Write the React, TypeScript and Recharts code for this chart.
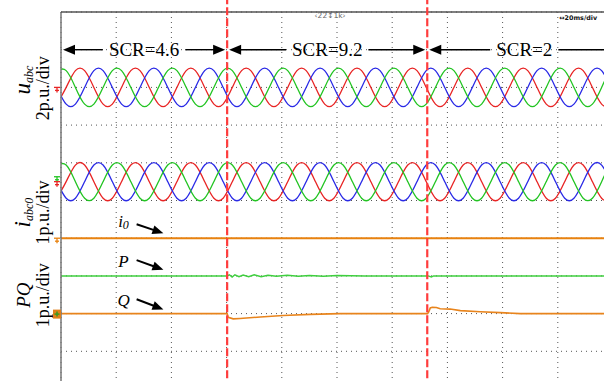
import React from 'react';
import { LineChart, Line, XAxis, YAxis, CartesianGrid, ReferenceLine, ReferenceDot } from 'recharts';

// sample instants (ms), one every 60 deg of the 50 Hz waves
const sampleTimes = [
  -1.48, 1.87, 5.22, 8.56, 11.91, 15.25,
  18.6, 21.94, 25.29, 28.63, 31.98, 35.32,
  38.67, 42.01, 45.36, 48.7, 52.05, 55.39,
  58.74, 62.08, 65.43, 68.77, 72.12, 75.46,
  78.81, 82.15, 85.5, 88.84, 92.19, 95.53,
  98.88, 102.22, 105.57, 108.91, 112.26, 115.6,
  118.95, 122.29, 125.64, 128.98, 132.33, 135.67,
  139.02, 142.36, 145.71, 149.05, 152.4, 155.74,
  159.09, 162.43, 165.78, 169.12, 172.47, 175.81,
  179.16, 182.5, 185.85, 189.19, 192.54, 195.88,
  199.23, 202.57,
];

// grid voltage u_abc (p.u.)
const uA = [
  -0.89,
  0, 0.89, 0.89, 0, -0.89, -0.89,
  0, 0.89, 0.89, 0, -0.89, -0.89,
  0, 0.89, 0.89, 0, -0.89, -0.89,
  0, 0.89, 0.89, 0, -0.89, -0.89,
  0, 0.89, 0.89, 0, -0.89, -0.89,
  0, 0.89, 0.89, 0, -0.89, -0.89,
  0, 0.89, 0.89, 0, -0.89, -0.89,
  0, 0.89, 0.89, 0, -0.89, -0.89,
  0, 0.89, 0.89, 0, -0.89, -0.89,
  0, 0.89, 0.89, 0, -0.89, -0.89,
  0,
];
const uB = [
  0,
  -0.89, -0.89, 0, 0.89, 0.89, 0,
  -0.89, -0.89, 0, 0.89, 0.89, 0,
  -0.89, -0.89, 0, 0.89, 0.89, 0,
  -0.89, -0.89, 0, 0.89, 0.89, 0,
  -0.89, -0.89, 0, 0.89, 0.89, 0,
  -0.89, -0.89, 0, 0.89, 0.89, 0,
  -0.89, -0.89, 0, 0.89, 0.89, 0,
  -0.89, -0.89, 0, 0.89, 0.89, 0,
  -0.89, -0.89, 0, 0.89, 0.89, 0,
  -0.89, -0.89, 0, 0.89, 0.89, 0,
  -0.89,
];
const uC = [
  0.89,
  0.89, 0, -0.89, -0.89, 0, 0.89,
  0.89, 0, -0.89, -0.89, 0, 0.89,
  0.89, 0, -0.89, -0.89, 0, 0.89,
  0.89, 0, -0.89, -0.89, 0, 0.89,
  0.89, 0, -0.89, -0.89, 0, 0.89,
  0.89, 0, -0.89, -0.89, 0, 0.89,
  0.89, 0, -0.89, -0.89, 0, 0.89,
  0.89, 0, -0.89, -0.89, 0, 0.89,
  0.89, 0, -0.89, -0.89, 0, 0.89,
  0.89, 0, -0.89, -0.89, 0, 0.89,
  0.89,
];

// converter current i_abc (p.u.)
const iA = [
  -0.44,
  0, 0.44, 0.44, 0, -0.44, -0.44,
  0, 0.44, 0.44, 0, -0.44, -0.44,
  0, 0.44, 0.44, 0, -0.44, -0.44,
  0, 0.44, 0.44, 0, -0.44, -0.44,
  0, 0.44, 0.44, 0, -0.44, -0.44,
  0, 0.44, 0.44, 0, -0.44, -0.44,
  0, 0.44, 0.44, 0, -0.44, -0.44,
  0, 0.44, 0.44, 0, -0.44, -0.44,
  0, 0.44, 0.44, 0, -0.44, -0.44,
  0, 0.44, 0.44, 0, -0.44, -0.44,
  0,
];
const iB = [
  0,
  -0.44, -0.44, 0, 0.44, 0.44, 0,
  -0.44, -0.44, 0, 0.44, 0.44, 0,
  -0.44, -0.44, 0, 0.44, 0.44, 0,
  -0.44, -0.44, 0, 0.44, 0.44, 0,
  -0.44, -0.44, 0, 0.44, 0.44, 0,
  -0.44, -0.44, 0, 0.44, 0.44, 0,
  -0.44, -0.44, 0, 0.44, 0.44, 0,
  -0.44, -0.44, 0, 0.44, 0.44, 0,
  -0.44, -0.44, 0, 0.44, 0.44, 0,
  -0.44, -0.44, 0, 0.44, 0.44, 0,
  -0.44,
];
const iC = [
  0.44,
  0.44, 0, -0.44, -0.44, 0, 0.44,
  0.44, 0, -0.44, -0.44, 0, 0.44,
  0.44, 0, -0.44, -0.44, 0, 0.44,
  0.44, 0, -0.44, -0.44, 0, 0.44,
  0.44, 0, -0.44, -0.44, 0, 0.44,
  0.44, 0, -0.44, -0.44, 0, 0.44,
  0.44, 0, -0.44, -0.44, 0, 0.44,
  0.44, 0, -0.44, -0.44, 0, 0.44,
  0.44, 0, -0.44, -0.44, 0, 0.44,
  0.44, 0, -0.44, -0.44, 0, 0.44,
  0.44,
];

// zero-sequence current
const i0Times = [0, 200];
const i0Values = [0, 0];

// active power P (p.u.)
const pTimes = [0, 60.2, 61, 62, 63, 64.5, 66, 68, 70, 72.5, 75, 78, 82, 86, 90, 95, 100, 110, 133, 134.2, 135, 200];
const pValues = [1, 1, 1.03, 0.97, 1.03, 0.98, 1.02, 0.98, 1.03, 0.98, 1.02, 0.99, 1.02, 0.99, 1.01, 0.99, 1.01, 1, 1, 0.97, 1, 1];

// reactive power Q (p.u.)
const qTimes = [0, 60.2, 60.6, 62.4, 64.9, 72.2, 80.5, 90.3, 101.2, 132.8, 133.2, 133.8, 134.5, 136, 137.4, 141, 144.7, 151.9, 159.2, 166.4, 200];
const qValues = [0, 0, -0.1, -0.14, -0.13, -0.09, -0.05, -0.02, 0, 0, 0.04, 0.15, 0.17, 0.16, 0.13, 0.12, 0.08, 0.05, 0.025, 0, 0];

// SCR steps
const scrLabels = ['SCR=4.6', 'SCR=9.2', 'SCR=2'];
const scrEdges = [0, 60.2, 132.7, 203];

// channel ground level (div from bottom) and scale (p.u./div)
const CH = {
  u: { zero: 8, perDiv: 2 },
  i: { zero: 5.5, perDiv: 1 },
  i0: { zero: 4, perDiv: 1 },
  pq: { zero: 2, perDiv: 1 },
};

const xTicks = [0, 20, 40, 60, 80, 100, 120, 140, 160, 180, 200];
const yTicks = [0, 1, 2, 3, 4, 5, 6, 7, 8, 9, 10];

const waveRows = sampleTimes.map((t, i) => ({
  t,
  uA: CH.u.zero + uA[i] / CH.u.perDiv,
  uB: CH.u.zero + uB[i] / CH.u.perDiv,
  uC: CH.u.zero + uC[i] / CH.u.perDiv,
  iA: CH.i.zero + iA[i] / CH.i.perDiv,
  iB: CH.i.zero + iB[i] / CH.i.perDiv,
  iC: CH.i.zero + iC[i] / CH.i.perDiv,
}));
const i0Rows = i0Times.map((t, i) => ({ t, v: CH.i0.zero + i0Values[i] / CH.i0.perDiv }));
const pRows = pTimes.map((t, i) => ({ t, v: CH.pq.zero + pValues[i] / CH.pq.perDiv }));
const qRows = qTimes.map((t, i) => ({ t, v: CH.pq.zero + qValues[i] / CH.pq.perDiv }));

const SERIF = "'Liberation Serif', 'Times New Roman', serif";
const RED = '#e82424';
const GREEN = '#22c422';
const BLUE = '#2a2ae6';
const ORANGE = '#e8820f';

const charW: Record<string, number> = { S: 0.556, C: 0.667, R: 0.667, '=': 0.564, '.': 0.25 };
const textWidth = (s: string, size: number) =>
  s.split('').reduce((a, c) => a + (charW[c] ?? 0.5), 0) * size;

// double arrow with the SCR value in the gap
const SpanArrow = (props: any) => {
  const { x1, x2, y1, text } = props;
  const l = Math.min(x1, x2) + 2;
  const r = Math.max(x1, x2) - 2;
  const mid = (l + r) / 2;
  const half = textWidth(text, 19) / 2 + 6;
  return (
    <g>
      <line x1={l + 10} y1={y1} x2={mid - half} y2={y1} stroke="#000" strokeWidth={1.4} />
      <line x1={mid + half} y1={y1} x2={r - 10} y2={y1} stroke="#000" strokeWidth={1.4} />
      <polygon points={`${l},${y1} ${l + 12},${y1 - 5} ${l + 12},${y1 + 5}`} fill="#000" />
      <polygon points={`${r},${y1} ${r - 12},${y1 - 5} ${r - 12},${y1 + 5}`} fill="#000" />
      <text x={mid} y={y1 + 6.3} textAnchor="middle" fontFamily={SERIF} fontSize={19} fill="#000">
        {text}
      </text>
    </g>
  );
};

// small pointer arrow next to i0 / P / Q
const Pointer = (props: any) => {
  const { x1, y1, x2, y2 } = props;
  const a = Math.atan2(y2 - y1, x2 - x1);
  const c = Math.cos(a);
  const s = Math.sin(a);
  const bx = x2 - 11 * c;
  const by = y2 - 11 * s;
  return (
    <g>
      <line x1={x1} y1={y1} x2={bx + 2 * c} y2={by + 2 * s} stroke="#000" strokeWidth={2} />
      <polygon points={`${x2},${y2} ${bx - 4.5 * s},${by + 4.5 * c} ${bx + 4.5 * s},${by - 4.5 * c}`} fill="#000" />
    </g>
  );
};

const ChannelLabel = ({ cx, cy, sym, sub, symSize, subSize, symShift, unit }: any) => (
  <g fontFamily={SERIF} fill="#000">
    <text transform={`translate(${cx - 31},${cy + symShift}) rotate(-90)`} textAnchor="middle" fontStyle="italic" fontSize={symSize}>
      {sym}
      {sub ? <tspan fontSize={subSize} dy={3}>{sub}</tspan> : null}
    </text>
    <text transform={`translate(${cx - 12},${cy}) rotate(-90)`} textAnchor="middle" fontSize={18}>
      {unit}
    </text>
  </g>
);

const GroundMark = ({ cx, cy, color }: any) => (
  <g stroke={color} strokeWidth={1.3}>
    <line x1={cx - 7} y1={cy} x2={cx - 1} y2={cy} />
    <line x1={cx - 4} y1={cy} x2={cx - 4} y2={cy + 5} />
    <line x1={cx - 6} y1={cy + 3} x2={cx - 2} y2={cy + 3} />
  </g>
);

const PQMark = ({ cx, cy }: any) => (
  <g>
    <rect x={cx - 8} y={cy - 4} width={8} height={9} fill="#e0801a" />
    <line x1={cx - 6.5} y1={cy + 0.5} x2={cx - 1.5} y2={cy + 0.5} stroke="#3a9a20" strokeWidth={1.5} />
    <line x1={cx - 4} y1={cy - 2} x2={cx - 4} y2={cy + 3} stroke="#3a9a20" strokeWidth={1.5} />
  </g>
);

const Tag = ({ cx, cy, main, sub }: any) => (
  <text x={cx} y={cy} fontFamily={SERIF} fontStyle="italic" fontSize={17} fill="#000">
    {main}
    {sub ? <tspan fontSize={12} dy={2}>{sub}</tspan> : null}
  </text>
);

const annotations = [
  { main: 'i', sub: '0', text: [20.7, 4.3], from: [27.4, 4.37], to: [37.1, 4.13] },
  { main: 'P', sub: '', text: [20.7, 3.24], from: [27.4, 3.42], to: [37.1, 3.16] },
  { main: 'Q', sub: '', text: [20.5, 2.2], from: [27.4, 2.38], to: [37.1, 2.11] },
];

export default function App() {
  return (
    <div style={{ position: 'fixed', left: 0, top: 0, width: 604, height: 381, overflow: 'hidden', background: '#fff' }}>
      <LineChart width={640} height={400} margin={{ top: 12, right: 27, bottom: 11, left: 61 }}>
        <CartesianGrid stroke="#555" strokeDasharray="1 4" strokeWidth={1} />
        <XAxis type="number" dataKey="t" domain={[0, 200]} ticks={xTicks} allowDataOverflow hide />
        <YAxis type="number" domain={[0, 10]} ticks={yTicks} allowDataOverflow hide />

        <Line data={waveRows} dataKey="uA" type="natural" stroke={RED} strokeWidth={1.3} dot={false} isAnimationActive={false} />
        <Line data={waveRows} dataKey="uB" type="natural" stroke={BLUE} strokeWidth={1.3} dot={false} isAnimationActive={false} />
        <Line data={waveRows} dataKey="uC" type="natural" stroke={GREEN} strokeWidth={1.3} dot={false} isAnimationActive={false} />
        <Line data={waveRows} dataKey="iA" type="natural" stroke={RED} strokeWidth={1.3} dot={false} isAnimationActive={false} />
        <Line data={waveRows} dataKey="iB" type="natural" stroke={BLUE} strokeWidth={1.3} dot={false} isAnimationActive={false} />
        <Line data={waveRows} dataKey="iC" type="natural" stroke={GREEN} strokeWidth={1.3} dot={false} isAnimationActive={false} />
        <Line data={i0Rows} dataKey="v" type="linear" stroke={ORANGE} strokeWidth={2} dot={false} isAnimationActive={false} />
        <Line data={pRows} dataKey="v" type="linear" stroke="#3fcf3f" strokeWidth={1.5} dot={false} isAnimationActive={false} />
        <Line data={qRows} dataKey="v" type="linear" stroke="#e8841c" strokeWidth={1.6} dot={false} isAnimationActive={false} />

        <ReferenceLine x={0} stroke="#777" strokeWidth={1.5} />
        <ReferenceLine y={10} stroke="#555" strokeWidth={1.5} />
        {[scrEdges[1], scrEdges[2]].map((x) => (
          <ReferenceLine
            key={x}
            segment={[{ x, y: -0.3 }, { x, y: 10.35 }]}
            ifOverflow="visible"
            stroke="#ff3c3c"
            strokeWidth={2.2}
            strokeDasharray="8 3"
          />
        ))}
        {scrLabels.map((lab, i) => (
          <ReferenceLine
            key={lab}
            segment={[{ x: scrEdges[i], y: 9 }, { x: scrEdges[i + 1], y: 9 }]}
            ifOverflow="visible"
            shape={(p: any) => <SpanArrow {...p} text={lab} />}
          />
        ))}
        {annotations.map((a) => (
          <ReferenceLine
            key={a.main}
            segment={[{ x: a.from[0], y: a.from[1] }, { x: a.to[0], y: a.to[1] }]}
            shape={(p: any) => <Pointer {...p} />}
          />
        ))}
        {annotations.map((a) => (
          <ReferenceDot
            key={'t' + a.main}
            x={a.text[0]}
            y={a.text[1]}
            ifOverflow="visible"
            shape={(p: any) => <Tag {...p} main={a.main} sub={a.sub} />}
          />
        ))}

        <ReferenceDot x={0} y={7.98} ifOverflow="visible"
          shape={(p: any) => <ChannelLabel {...p} sym="u" sub="abc" symSize={23} subSize={12} symShift={-8} unit="2p.u./div" />} />
        <ReferenceDot x={0} y={4.68} ifOverflow="visible"
          shape={(p: any) => <ChannelLabel {...p} sym="i" sub="abc0" symSize={23} subSize={12} symShift={0} unit="1p.u./div" />} />
        <ReferenceDot x={0} y={2.49} ifOverflow="visible"
          shape={(p: any) => <ChannelLabel {...p} sym="PQ" sub="" symSize={19} subSize={12} symShift={0} unit="1p.u./div" />} />

        <ReferenceDot x={0} y={CH.u.zero} ifOverflow="visible" shape={(p: any) => <GroundMark {...p} color={RED} />} />
        <ReferenceDot x={0} y={CH.i.zero + 0.13} ifOverflow="visible" shape={(p: any) => <GroundMark {...p} color={GREEN} />} />
        <ReferenceDot x={0} y={CH.i.zero} ifOverflow="visible" shape={(p: any) => <GroundMark {...p} color={RED} />} />
        <ReferenceDot x={0} y={CH.i0.zero} ifOverflow="visible" shape={(p: any) => <GroundMark {...p} color={ORANGE} />} />
        <ReferenceDot x={0} y={CH.pq.zero} ifOverflow="visible" shape={(p: any) => <PQMark {...p} />} />

        <ReferenceDot x={97.5} y={9.84} ifOverflow="visible"
          shape={(p: any) => (
            <text x={p.cx} y={p.cy} textAnchor="middle" fontFamily="'DejaVu Sans', sans-serif" fontSize={7.5} fill="#666">
              {'\u2039'}22{'\u2195'}1k{'\u203a'}
            </text>
          )} />
        <ReferenceDot x={180.5} y={9.8} ifOverflow="visible"
          shape={(p: any) => (
            <text x={p.cx} y={p.cy} fontFamily="'DejaVu Sans', sans-serif" fontSize={6.4} fontWeight="bold" fill="#111">
              {'\u2194'}20ms/div
            </text>
          )} />
      </LineChart>
    </div>
  );
}
